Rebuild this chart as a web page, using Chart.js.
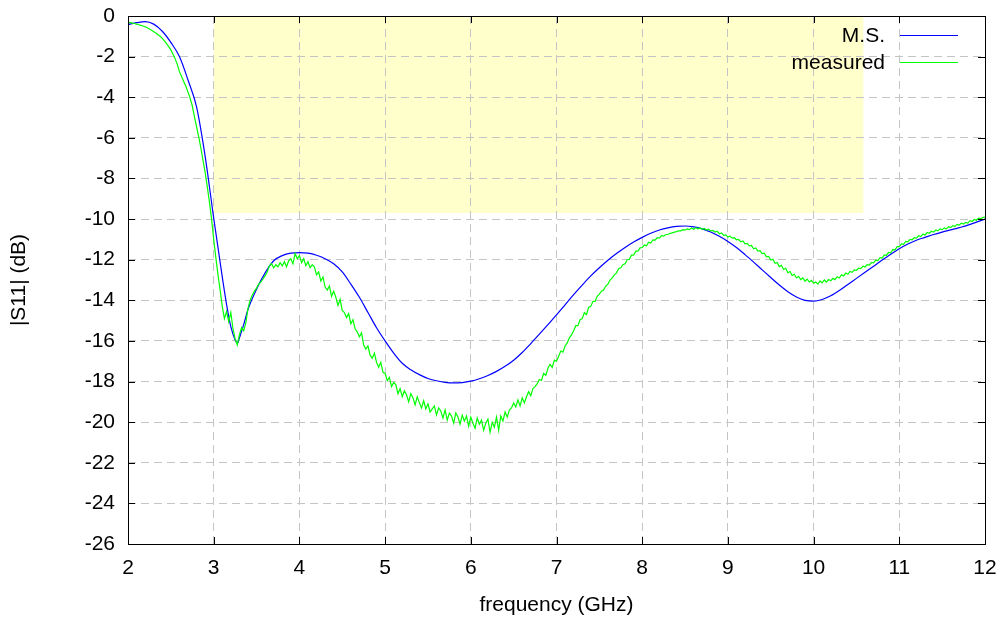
<!DOCTYPE html>
<html>
<head>
<meta charset="utf-8">
<script src="https://cdn.jsdelivr.net/npm/chart.js@4.4.1/dist/chart.umd.min.js"></script>
<style>
  html, body { margin: 0; padding: 0; background: #fff; }
  canvas { display: block; }
</style>
</head>
<body>
<canvas id="s11" width="997" height="621"></canvas>
<script>
// simulated |S11| (M.S.), sampled unevenly so the sharp dip at 3.28 GHz keeps its shape
const msFreq = [2.0, 2.1, 2.2, 2.3, 2.4, 2.5, 2.6, 2.7, 2.8, 2.9, 3.0, 3.1, 3.15, 3.2, 3.25, 3.28, 3.3, 3.35, 3.4,
  3.5, 3.6, 3.7, 3.8, 3.9, 4.0, 4.1, 4.2, 4.3, 4.4, 4.5, 4.6, 4.7, 4.8, 4.9, 5.0,
  5.1, 5.2, 5.3, 5.4, 5.5, 5.6, 5.7, 5.8, 5.9, 6.0, 6.1, 6.2, 6.3, 6.4, 6.5,
  6.6, 6.7, 6.8, 6.9, 7.0, 7.1, 7.2, 7.3, 7.4, 7.5, 7.6, 7.7, 7.8, 7.9, 8.0,
  8.1, 8.2, 8.3, 8.4, 8.5, 8.6, 8.7, 8.8, 8.9, 9.0, 9.1, 9.2, 9.3, 9.4, 9.5,
  9.6, 9.7, 9.8, 9.9, 10.0, 10.1, 10.2, 10.3, 10.4, 10.5, 10.6, 10.7, 10.8, 10.9, 11.0,
  11.1, 11.2, 11.3, 11.4, 11.5, 11.6, 11.7, 11.8, 11.9, 12.0];
const msDb = [-0.42, -0.33, -0.28, -0.40, -0.75, -1.30, -2.00, -3.15, -4.47, -6.90, -9.95, -12.85, -14.20, -15.30, -15.95, -16.10, -15.85, -15.20, -14.45,
  -13.45, -12.65, -12.05, -11.80, -11.68, -11.65, -11.68, -11.78, -11.95, -12.20, -12.60, -13.20, -13.85, -14.60, -15.35, -16.00,
  -16.60, -17.10, -17.42, -17.66, -17.85, -17.96, -18.04, -18.07, -18.05, -17.98, -17.86, -17.70, -17.50, -17.25, -16.95,
  -16.57, -16.13, -15.67, -15.20, -14.72, -14.22, -13.72, -13.25, -12.80, -12.40, -12.03, -11.70, -11.40, -11.13, -10.90,
  -10.70, -10.54, -10.43, -10.36, -10.34, -10.38, -10.48, -10.64, -10.85, -11.10, -11.40, -11.75, -12.12, -12.50, -12.88,
  -13.25, -13.58, -13.84, -14.00, -14.04, -13.96, -13.78, -13.52, -13.22, -12.92, -12.62, -12.32, -12.02, -11.73, -11.46,
  -11.23, -11.04, -10.90, -10.76, -10.64, -10.53, -10.42, -10.30, -10.15, -10.00];

// measured |S11|, one value every 25 MHz from 2 GHz, 20 values per row (0.5 GHz)
const measuredStart = 2.0;
const measuredStep = 0.025;
const measuredDb = [
  -0.31, -0.33, -0.35, -0.37, -0.40, -0.43, -0.46, -0.49, -0.53, -0.58, -0.64, -0.70, -0.77, -0.84, -0.92, -1.00, -1.10, -1.22, -1.36, -1.51,
  -1.67, -1.88, -2.10, -2.38, -2.74, -2.98, -3.22, -3.46, -3.75, -4.05, -4.42, -4.95, -5.45, -5.95, -6.50, -7.10, -7.70, -8.40, -9.15, -10.00,
  -11.00, -11.90, -12.75, -13.50, -14.30, -14.90, -14.55, -15.05, -14.60, -15.40, -15.90, -16.20, -15.70, -15.35, -15.50, -15.10, -14.40, -14.00, -13.75, -13.55,
  -13.40, -13.20, -13.10, -12.95, -12.80, -12.60, -12.30, -12.20, -12.40, -12.25, -12.35, -12.15, -12.30, -12.10, -12.35, -12.05, -11.95, -12.20, -11.70, -11.95,
  -11.80, -12.15, -11.95, -12.30, -12.10, -12.40, -12.25, -12.35, -12.75, -12.60, -13.05, -12.85, -13.35, -13.50, -13.30, -13.80, -13.55, -13.85, -14.25, -13.95,
  -14.50, -14.60, -14.85, -14.65, -15.15, -14.95, -15.40, -15.55, -15.80, -15.60, -16.20, -16.40, -16.25, -16.70, -16.85, -16.60, -17.05, -17.30, -17.05, -17.55,
  -17.60, -17.95, -17.80, -18.25, -18.05, -18.15, -18.60, -18.35, -18.75, -18.45, -18.65, -19.00, -18.60, -18.80, -19.15, -18.75, -19.05, -19.30, -18.95, -19.35,
  -19.10, -19.50, -19.35, -19.20, -19.65, -19.30, -19.45, -19.80, -19.40, -19.90, -19.55, -19.70, -20.05, -19.55, -19.75, -20.10, -19.65, -19.95, -19.70, -20.20,
  -19.75, -20.05, -20.30, -19.80, -20.10, -19.90, -20.40, -20.05, -19.85, -20.50, -20.00, -20.25, -19.75, -20.40, -19.70, -19.95, -19.50, -19.75, -19.40, -19.30,
  -19.05, -19.25, -18.90, -19.20, -18.80, -19.05, -18.75, -18.50, -18.70, -18.35, -18.25, -18.10, -17.90, -17.95, -17.60, -17.70, -17.35, -17.15, -17.30, -16.95,
  -17.00, -16.75, -16.50, -16.55, -16.25, -16.10, -15.85, -15.70, -15.50, -15.25, -15.25, -14.95, -14.90, -14.60, -14.70, -14.35, -14.30, -14.05, -14.05, -13.80,
  -13.70, -13.55, -13.50, -13.30, -13.20, -13.00, -12.90, -12.75, -12.65, -12.45, -12.40, -12.25, -12.20, -12.00, -11.98, -11.78, -11.78, -11.58, -11.58, -11.42,
  -11.40, -11.28, -11.32, -11.14, -11.18, -11.02, -11.04, -10.92, -10.94, -10.82, -10.84, -10.76, -10.76, -10.70, -10.68, -10.64, -10.62, -10.58, -10.58, -10.52,
  -10.54, -10.48, -10.52, -10.44, -10.50, -10.42, -10.48, -10.44, -10.50, -10.46, -10.54, -10.50, -10.58, -10.56, -10.64, -10.60, -10.72, -10.68, -10.80, -10.78,
  -10.88, -10.84, -10.94, -10.92, -11.02, -11.00, -11.12, -11.08, -11.22, -11.20, -11.32, -11.30, -11.46, -11.42, -11.58, -11.56, -11.70, -11.68, -11.86, -11.84,
  -12.02, -11.98, -12.18, -12.14, -12.34, -12.28, -12.48, -12.42, -12.64, -12.58, -12.78, -12.72, -12.90, -12.82, -12.98, -12.90, -13.06, -12.96, -13.10, -13.02,
  -13.16, -13.10, -13.20, -13.04, -13.14, -13.00, -13.10, -12.98, -13.04, -12.92, -12.98, -12.84, -12.90, -12.74, -12.80, -12.66, -12.72, -12.58, -12.62, -12.50,
  -12.52, -12.42, -12.44, -12.32, -12.36, -12.24, -12.26, -12.14, -12.16, -12.02, -12.04, -11.90, -11.92, -11.76, -11.78, -11.64, -11.66, -11.50, -11.52, -11.36,
  -11.36, -11.22, -11.24, -11.10, -11.12, -11.00, -11.02, -10.92, -10.94, -10.82, -10.86, -10.74, -10.78, -10.66, -10.70, -10.60, -10.64, -10.54, -10.58, -10.48,
  -10.52, -10.44, -10.48, -10.38, -10.42, -10.32, -10.36, -10.26, -10.30, -10.20, -10.24, -10.16, -10.20, -10.08, -10.12, -10.02, -10.06, -9.96, -9.98, -9.92,
  -9.90
];

// target band: 3 GHz .. 10.6 GHz, better than about -9.7 dB
const bandFreq = [3.0, 10.58];
const bandDb = [0, -9.7];

const xTicks = [2, 3, 4, 5, 6, 7, 8, 9, 10, 11, 12];
const yTicks = [0, -2, -4, -6, -8, -10, -12, -14, -16, -18, -20, -22, -24, -26];

const font = { family: "'Liberation Sans', Arial, sans-serif", size: 21 };
const gridColor = '#c4c4c4';

const msPoints = msFreq.map((f, i) => ({ x: f, y: msDb[i] }));
const measuredPoints = measuredDb.map((v, i) => ({ x: +(measuredStart + i * measuredStep).toFixed(3), y: v }));

// yellow band behind the grid, frame + inside ticks + gnuplot-style key on top
const gnuplotDecor = {
  id: 'gnuplotDecor',
  beforeDraw(chart) {
    const { ctx, scales: { x, y } } = chart;
    const x0 = x.getPixelForValue(bandFreq[0]);
    const x1 = x.getPixelForValue(bandFreq[1]);
    const y0 = y.getPixelForValue(bandDb[0]);
    const y1 = y.getPixelForValue(bandDb[1]);
    ctx.save();
    ctx.fillStyle = '#ffffcc';
    ctx.fillRect(x0, y0 + 1, x1 - x0, y1 - y0 - 1);
    ctx.restore();
  },
  afterDatasetsDraw(chart) {
    const { ctx, chartArea: a, scales: { x, y } } = chart;
    ctx.save();
    ctx.strokeStyle = '#000';
    ctx.lineWidth = 1;
    ctx.beginPath();
    xTicks.forEach(v => {
      const px = Math.round(x.getPixelForValue(v)) + 0.5;
      ctx.moveTo(px, a.bottom); ctx.lineTo(px, a.bottom - 7);
      ctx.moveTo(px, a.top); ctx.lineTo(px, a.top + 7);
    });
    yTicks.forEach(v => {
      const py = Math.round(y.getPixelForValue(v)) + 0.5;
      ctx.moveTo(a.left, py); ctx.lineTo(a.left + 7, py);
      ctx.moveTo(a.right, py); ctx.lineTo(a.right - 7, py);
    });
    ctx.stroke();
    ctx.strokeRect(Math.round(a.left) + 0.5, Math.round(a.top) + 0.5,
      Math.round(a.right - a.left), Math.round(a.bottom - a.top));

    // key
    ctx.font = font.size + 'px ' + font.family;
    ctx.textAlign = 'right';
    ctx.textBaseline = 'middle';
    chart.data.datasets.forEach((ds, i) => {
      const rowY = a.top + 19 + i * 27;
      ctx.fillStyle = '#000';
      ctx.fillText(ds.label, a.right - 100, rowY + 1);
      ctx.strokeStyle = ds.borderColor;
      ctx.lineWidth = 1.2;
      ctx.beginPath();
      ctx.moveTo(a.right - 85, rowY + 0.5);
      ctx.lineTo(a.right - 27, rowY + 0.5);
      ctx.stroke();
    });
    ctx.restore();
  }
};

new Chart(document.getElementById('s11'), {
  type: 'line',
  data: {
    datasets: [
      {
        label: 'M.S.',
        data: msPoints,
        borderColor: '#0000ff',
        borderWidth: 1.2,
        pointRadius: 0,
        cubicInterpolationMode: 'monotone',
        order: 1
      },
      {
        label: 'measured',
        data: measuredPoints,
        borderColor: '#00ff00',
        borderWidth: 1.2,
        pointRadius: 0,
        tension: 0,
        order: 0
      }
    ]
  },
  options: {
    responsive: false,
    animation: false,
    events: [],
    layout: { padding: { top: 16, right: 12, left: 0, bottom: 0 } },
    plugins: { legend: { display: false }, tooltip: { enabled: false } },
    scales: {
      x: {
        type: 'linear',
        min: 2,
        max: 12,
        afterBuildTicks: s => { s.ticks = xTicks.map(v => ({ value: v })); },
        ticks: { color: '#000', font: font, padding: 12, maxRotation: 0, autoSkip: false },
        grid: { color: gridColor, lineWidth: 1, drawTicks: false },
        border: { display: false, dash: [8, 5] },
        title: { display: true, text: 'frequency (GHz)', color: '#000', font: font, padding: { top: 0, bottom: 3 } },
        afterFit: s => { s.height = 77; s.paddingLeft = 0; s.paddingRight = 0; }
      },
      y: {
        type: 'linear',
        min: -26,
        max: 0,
        afterBuildTicks: s => { s.ticks = yTicks.map(v => ({ value: v })); },
        ticks: { color: '#000', font: font, padding: 13 },
        grid: { color: gridColor, lineWidth: 1, drawTicks: false },
        border: { display: false, dash: [8, 5] },
        title: { display: true, text: '|S11| (dB)', color: '#000', font: font, padding: { top: 7, bottom: 0 } },
        afterFit: s => { s.width = 128; s.paddingTop = 0; s.paddingBottom = 0; }
      }
    }
  },
  plugins: [gnuplotDecor]
});
</script>
</body>
</html>
